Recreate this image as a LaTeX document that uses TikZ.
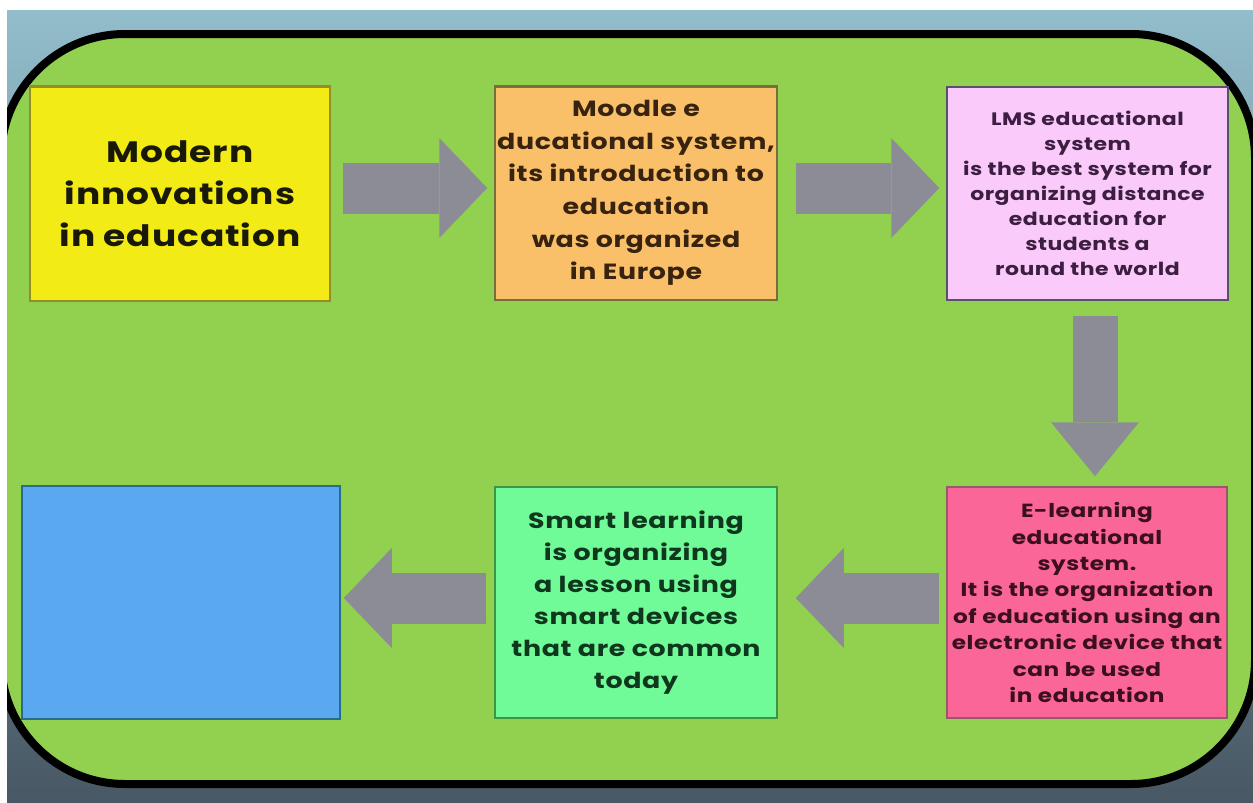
\documentclass[tikz,border=0pt]{standalone}
\usepackage{fontspec}
\setmainfont{Poppins}[FakeStretch=1.22, LetterSpace=3]
\usetikzlibrary{arrows.meta}

\definecolor{bgtop}{RGB}{146,189,203}
\definecolor{bgbot}{RGB}{72,88,100}
\definecolor{panelgreen}{RGB}{146,208,80}
\definecolor{arrowgray}{RGB}{140,140,150}
\definecolor{yellowbox}{RGB}{242,235,22}
\definecolor{orangebox}{RGB}{250,192,105}
\definecolor{pinkbox}{RGB}{250,202,250}
\definecolor{rosebox}{RGB}{250,102,152}
\definecolor{mintbox}{RGB}{112,250,152}
\definecolor{bluebox}{RGB}{90,168,240}
% borders and text
\definecolor{yellowline}{RGB}{150,140,40}
\definecolor{yellowtop}{RGB}{200,110,70}
\definecolor{orangeline}{RGB}{120,110,60}
\definecolor{orangetop}{RGB}{40,140,140}
\definecolor{pinkline}{RGB}{90,80,110}
\definecolor{roseline}{RGB}{150,90,105}
\definecolor{mintline}{RGB}{60,150,70}
\definecolor{blueline}{RGB}{40,110,140}
\definecolor{yellowtext}{RGB}{25,25,10}
\definecolor{orangetext}{RGB}{55,35,15}
\definecolor{pinktext}{RGB}{60,30,65}
\definecolor{rosetext}{RGB}{60,15,30}
\definecolor{minttext}{RGB}{15,55,30}

\begin{document}
\begin{tikzpicture}[x=1pt,y=-1pt,
  box/.style={draw, line width=1.5pt, align=center, inner sep=0pt},
  fontsz/.style 2 args={font=\bfseries\fontsize{#1}{#2}\selectfont},
  topedge/.style={path picture={\draw[#1, line width=4pt]
      (path picture bounding box.north west) -- (path picture bounding box.north east);}},
  flow/.style={arrowgray, line width=51pt,
      -{Triangle[length=48pt,width=100pt,line width=0pt]}},
  flowdown/.style={arrowgray, line width=45pt,
      -{Triangle[length=54pt,width=88pt,line width=0pt]}}]
\useasboundingbox (0,0) rectangle (1253,803);
\fill[white] (0,0) rectangle (1253,803);

% backdrop and green panel
\begin{scope}
\clip (7,10) rectangle (1253,803);
\shade[top color=bgtop, bottom color=bgbot] (7,10) rectangle (1253,803);
\draw[fill=panelgreen, line width=8pt, rounded corners=124pt] (1,34) rectangle (1255,784);
\end{scope}

% top row
\node[box, fill=yellowbox, draw=yellowline, topedge=yellowtop, text=yellowtext,
  fontsz={29.5}{42}, minimum width=300, minimum height=215]
  (modern) at (180,193.5) {Modern\\innovations\\in education};
\node[box, fill=orangebox, draw=orangeline, topedge=orangetop, text=orangetext,
  fontsz={22}{32.6}, minimum width=282, minimum height=214]
  (moodle) at (636,193) {Moodle e\\ducational system,\\its introduction to\\education\\was organized\\in Europe};
\node[box, fill=pinkbox, draw=pinkline, text=pinktext,
  fontsz={18}{25}, minimum width=281, minimum height=213]
  (lms) at (1087.5,193.5) {LMS educational\\system\\is the best system for\\organizing distance\\education for\\students a\\round the world};

% bottom row
\node[box, fill=rosebox, draw=roseline, text=rosetext,
  fontsz={19}{26.4}, minimum width=280, minimum height=231]
  (elearn) at (1087,602.5) {E-learning\\educational\\system.\\It is the organization\\of education using an\\electronic device that\\can be used\\in education};
\node[box, fill=mintbox, draw=mintline, text=minttext,
  fontsz={22}{32}, minimum width=282, minimum height=231]
  (smart) at (636,602.5) {Smart learning\\is organizing\\a lesson using\\smart devices\\that are common\\today};
\node[box, fill=bluebox, draw=blueline,
  minimum width=318, minimum height=233] (blank) at (181,602.5) {};

% arrows
\draw[flow] ([xshift=12pt,yshift=5.5pt]modern.east) -- ([xshift=-7pt,yshift=5pt]moodle.west);
\draw[flow] ([xshift=18pt,yshift=5pt]moodle.east) -- ([xshift=-7pt,yshift=5.5pt]lms.west);
\draw[flowdown] ([xshift=7.5pt,yshift=-15pt]lms.south) -- ([xshift=8pt,yshift=10pt]elearn.north);
\draw[flow] ([xshift=-7pt,yshift=4.5pt]elearn.west) -- ([xshift=18pt,yshift=4.5pt]smart.east);
\draw[flow] ([xshift=-8pt,yshift=4.5pt]smart.west) -- ([xshift=3pt,yshift=4.5pt]blank.east);
\end{tikzpicture}
\end{document}
